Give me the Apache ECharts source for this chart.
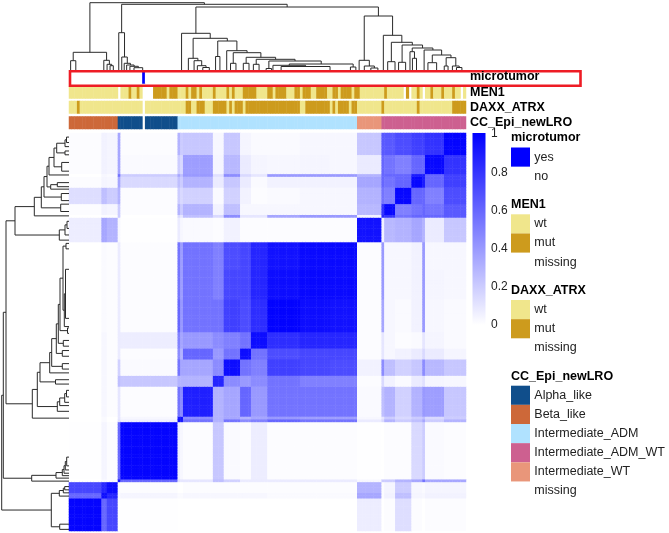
<!DOCTYPE html>
<html><head><meta charset="utf-8">
<style>html,body{margin:0;padding:0;background:#fff}#c{width:669px;height:533px}</style>
<script src="https://cdn.jsdelivr.net/npm/echarts@6/dist/echarts.min.js"></script>
</head><body><div id="c"></div>
<script>
// ---- data ----
const segmentNames = ['B1','B2','B3','A0','A1','D0','D1','D2','D3','D4','D5','D6','D7','D8','D9','T0','W0','W1','W2','W3','W4','W5','W6'];
const segmentSizes = [12,2,4,1,21,1,1,11,4,6,4,6,12,11,10,9,1,4,6,4,1,7,8];
// consensus between sample groups, upper triangle, row by row
const simB1=[.98,.6,.72,0,.005,0,0,0,0,0,0,0,0,0,0,.07,0,.01,.13,.01,0,.01,.01];
const simB2=[.95,.85,.02,.04,.02,.02,.03,.03,.03,.03,.03,.02,.02,.02,.35,.01,.05,.25,.04,.03,.05,.05];
const simB3=[.95,.01,.01,0,0,.01,.01,.01,.01,.01,.01,.01,.01,.3,.01,.04,.2,.03,.02,.04,.04];
const simA0=[.9,.6,.12,.1,.1,.25,.18,.08,.08,.08,.08,.08,.03,.2,.2,.3,.35,.55,.35,.35];
const simA1=[.98,.06,.03,.01,.22,.02,.01,.07,.01,.01,.01,.005,0,.01,.01,.15,.2,.02,.01];
const simD0=[.95,.9,.55,.3,.55,.45,.5,.6,.55,.55,.08,.15,.3,.2,.25,.35,.2,.3];
const simD1=[.95,.45,.3,.35,.3,.35,.4,.38,.38,.03,.1,.2,.15,.2,.25,.15,.2];
const simD2=[.88,.3,.35,.6,.4,.55,.55,.55,.02,.25,.3,.18,.3,.4,.38,.22];
const simD3=[.85,.45,.4,.45,.55,.5,.5,.01,.15,.05,.02,.08,.12,.04,.03];
const simD4=[.95,.55,.5,.75,.72,.7,.05,.45,.25,.18,.22,.45,.28,.22];
const simD5=[.95,.55,.7,.72,.72,.01,.1,.03,.05,.08,.15,.08,.04];
const simD6=[.95,.82,.85,.85,.01,.1,.03,.01,.02,.1,.04,.02];
const simD7=[.99,.95,.93,.01,.35,.03,.02,.05,.4,.03,.02];
const simD8=[.97,.96,.01,.4,.03,.03,.05,.4,.04,.03];
const simD9=[.96,.01,.4,.03,.03,.05,.4,.03,.03];
const simT0=[.93,.05,.28,.3,.35,.3,.08,.22];
const simW0=[.85,.8,.55,.6,.6,.6,.65];
const simW1=[.97,.5,.55,.6,.55,.65];
const simW2=[.97,.6,.6,.5,.7];
const simW3=[.97,.9,.6,.75];
const simW4=[.9,.6,.75];
const simW5=[.97,.8];
const simW6=[.98];
const simRows=[simB1,simB2,simB3,simA0,simA1,simD0,simD1,simD2,simD3,simD4,simD5,simD6,simD7,simD8,simD9,simT0,simW0,simW1,simW2,simW3,simW4,simW5,simW6];

// annotation tracks as [level, run length]
const microtumorRuns=[['no',27],['yes',1],['no',118]];
const men1Runs=[['wt',18],['x',1],['wt',3],['mut',1],['wt',2],['mut',1],['wt',1],['x',4],['mut',5],['wt',1],['mut',3],['wt',3],['mut',1],['wt',1],['mut',2],['wt',1],['mut',1],['wt',4],['mut',1],['wt',4],['mut',1],['wt',1],['mut',1],['wt',3],['mut',5],['wt',4],['mut',2],['wt',1],['mut',4],['wt',3],['mut',2],['wt',1],['mut',3],['wt',2],['mut',4],['wt',2],['mut',2],['wt',1],['mut',4],['wt',1],['mut',2],['wt',9],['mut',1],['wt',6],['x',1],['mut',1],['x',1],['wt',2],['mut',1],['wt',1],['x',1],['wt',2],['mut',1],['wt',3],['mut',1],['wt',3],['mut',1],['wt',2],['x',1],['wt',1],['mut',1]];
const daxxRuns=[['wt',3],['mut',1],['wt',23],['x',1],['wt',15],['mut',2],['wt',2],['mut',3],['wt',3],['mut',5],['wt',1],['mut',1],['wt',1],['mut',3],['wt',1],['mut',20],['wt',2],['mut',9],['wt',1],['mut',1],['wt',1],['mut',4],['wt',1],['mut',2],['wt',9],['mut',1],['wt',12],['mut',1],['wt',12],['mut',5]];
const ccRuns=[['Beta_like',18],['Alpha_like',9],['x',1],['Alpha_like',12],['Intermediate_ADM',66],['Intermediate_WT',9],['Intermediate_ADM_WT',31]];

// clustering tree: [merge height, left, right]; a bare number is a leaf position
const tree=[67.3,
  [17.7,[9.3,0.6,2.5],[9.7,12.8,[5.7,14,[4.3,15.1,16.3]]]],
  [65.7,
    [37.3,18.3,[13,19.4,[6.7,20.3,[5,21.2,[3.7,22.4,[2.3,23.9,27.1]]]]]],
    [63,
      [36.7,41.4,[31.7,
        [11.7,43.9,[9.3,46,[4.3,47.2,[2.5,49.2,51.6]]]],
        [29,[13.5,53.9,55.5],[19.3,58,[17.3,[6.7,59.4,61.4],[12.7,[6.7,64.1,66.2],[10.7,[5.7,67.8,69.9],[9,[1.5,72.5,74.5],[6,[4.7,75,[3.5,78,96]],[3,103.5,105.5]]]]]]]]
      ]],
      [54,
        [9.7,106.7,[4,108.6,[2,111,113.6]]],
        [34.7,115.6,[27.7,[8.3,117.2,119.9],[25,[7.7,121.2,123.8],[22,[18.3,125.4,[11.7,126.3,127.8]],[20,130.6,[15,[7.3,132,135.2],[12.3,[4,138,139.4],[4,141,[2.5,142.5,144.5]]]]]]]]]
      ]
    ]
  ]
];

const colorbarTicks=[1,0.8,0.6,0.4,0.2,0];
const trackNames=['microtumor','MEN1','DAXX_ATRX','CC_Epi_newLRO'];
const levelColors={yes:'#0000ff',no:'#ffffff',wt:'#F0E68C',mut:'#CD9B1D',Alpha_like:'#104E8B',Beta_like:'#CD6839',Intermediate_ADM:'#B0E2FF',Intermediate_ADM_WT:'#CD6090',Intermediate_WT:'#E9967A'};
const legendMicro=['yes','no'];
const legendMut=['wt','mut','missing'];
const legendCC=['Alpha_like','Beta_like','Intermediate_ADM','Intermediate_ADM_WT','Intermediate_WT','missing'];

// ---- build ----
const segOf=[];segmentSizes.forEach((n,s)=>{for(let k=0;k<n;k++)segOf.push(s);});
const N=segOf.length;
const cats=Array.from({length:N},(_,i)=>i);
const sim=(a,b)=>{const i=Math.min(a,b),j=Math.max(a,b);return simRows[i][j-i];};
const heat=[];
for(let x=0;x<N;x++)for(let y=0;y<N;y++)heat.push([x,y,sim(segOf[x],segOf[y])]);
function expand(runs){const o=[];let i=0;runs.forEach(([l,n])=>{for(let k=0;k<n;k++,i++){if(l!=='x')o.push({value:[i,0,1],itemStyle:{color:levelColors[l]}});}});return o;}
const links=[];
function walk(n){
  if(typeof n==='number')return{p:n,h:0};
  const a=walk(n[1]),b=walk(n[2]);
  links.push([a.p,b.p,n[0],a.h,b.h]);
  return{p:(a.p+b.p)/2,h:n[0]};
}
walk(tree);
const FONT='"Liberation Sans",Arial,sans-serif';
const trackTop=[71,86,101,116.5],trackH=12.5;
const L=69,W=397,T=133,H=398;
const grids=[{left:L,top:T,width:W,height:H}];
const xAxes=[{type:'category',data:cats,gridIndex:0,show:false}];
const yAxes=[{type:'category',data:cats,gridIndex:0,show:false}];
const series=[{type:'heatmap',xAxisIndex:0,yAxisIndex:0,data:heat,progressive:0,animation:false,emphasis:{disabled:true}}];
[microtumorRuns,men1Runs,daxxRuns,ccRuns].forEach((r,k)=>{
  const gi=grids.length;
  grids.push({left:L,top:trackTop[k],width:W,height:trackH});
  xAxes.push({type:'category',data:cats,gridIndex:gi,show:false});
  yAxes.push({type:'category',data:[0],gridIndex:gi,show:false});
  series.push({type:'heatmap',xAxisIndex:gi,yAxisIndex:gi,data:expand(r),progressive:0,animation:false,emphasis:{disabled:true}});
});
function treeSeries(xi,top){return{type:'custom',xAxisIndex:xi,yAxisIndex:xi,data:links,animation:false,silent:true,clip:false,
  renderItem:(p,api)=>{
    const a=api.value(0),b=api.value(1),h=api.value(2),h1=api.value(3),h2=api.value(4);
    const c=top?(pos,ht)=>api.coord([pos,ht]):(pos,ht)=>api.coord([ht,pos]);
    return{type:'polyline',shape:{points:[c(a,h1),c(a,h),c(b,h),c(b,h2)]},style:{stroke:'#2a2a2a',lineWidth:1,fill:null}};
  }};}
let gi=grids.length;
grids.push({left:L,top:0,width:W,height:70});
xAxes.push({type:'value',min:0,max:N,gridIndex:gi,show:false});
yAxes.push({type:'value',min:0,max:70,gridIndex:gi,show:false});
series.push(treeSeries(gi,true));
gi=grids.length;
grids.push({left:0,top:T,width:69,height:H});
xAxes.push({type:'value',min:0,max:69,inverse:true,gridIndex:gi,show:false});
yAxes.push({type:'value',min:0,max:N,gridIndex:gi,show:false});
series.push(treeSeries(gi,false));

const g=[];
const txt=(x,y,s,bold,size)=>g.push({type:'text',x,y,silent:true,z:30,style:{text:s,x:0,y:0,fill:bold?'#000':'#222',font:(bold?'bold ':'')+(size||12.5)+'px '+FONT,textVerticalAlign:'middle',textAlign:'left'}});
const box=(x,y,w,h,c)=>g.push({type:'rect',silent:true,z:20,shape:{x,y,width:w,height:h},style:{fill:c}});
// track labels
[77,92.7,108,123].forEach((y,i)=>txt(470,y,trackNames[i],true));
// red frame
g.push({type:'rect',silent:true,z:25,shape:{x:70,y:71.3,width:510.5,height:14.4},style:{fill:null,stroke:'#EE1C25',lineWidth:2.6}});
// colour bar
g.push({type:'rect',silent:true,z:20,shape:{x:472.5,y:133,width:13,height:192},style:{fill:new echarts.graphic.LinearGradient(0,0,0,1,[{offset:0,color:'#0000ff'},{offset:1,color:'#ffffff'}])}});
colorbarTicks.forEach(t=>txt(491,134+(1-t)*191,String(t),false,12));
// legends
const lx=511,sx=19,tx=534.3,step=19.15;
function legend(title,titleY,items,startY){
  txt(lx,titleY,title,true);
  items.forEach((it,i)=>{
    const y=startY+i*step,c=levelColors[it];
    if(it!=='missing'&&it!=='no')box(lx,y,sx,step,c);
    txt(tx,y+step/2,it,false);
  });
}
legend('microtumor',138,legendMicro,147.5);
legend('MEN1',205,legendMut,214.3);
legend('DAXX_ATRX',290.7,legendMut,300);
legend('CC_Epi_newLRO',376.7,legendCC,385.7);

const chart=echarts.init(document.getElementById('c'),null,{renderer:'canvas'});
chart.setOption({animation:false,backgroundColor:'#fff',grid:grids,xAxis:xAxes,yAxis:yAxes,series,graphic:g,
  visualMap:{show:false,type:'continuous',min:0,max:1,seriesIndex:0,dimension:2,inRange:{color:['#ffffff','#0000ff']}}});
</script></body></html>
